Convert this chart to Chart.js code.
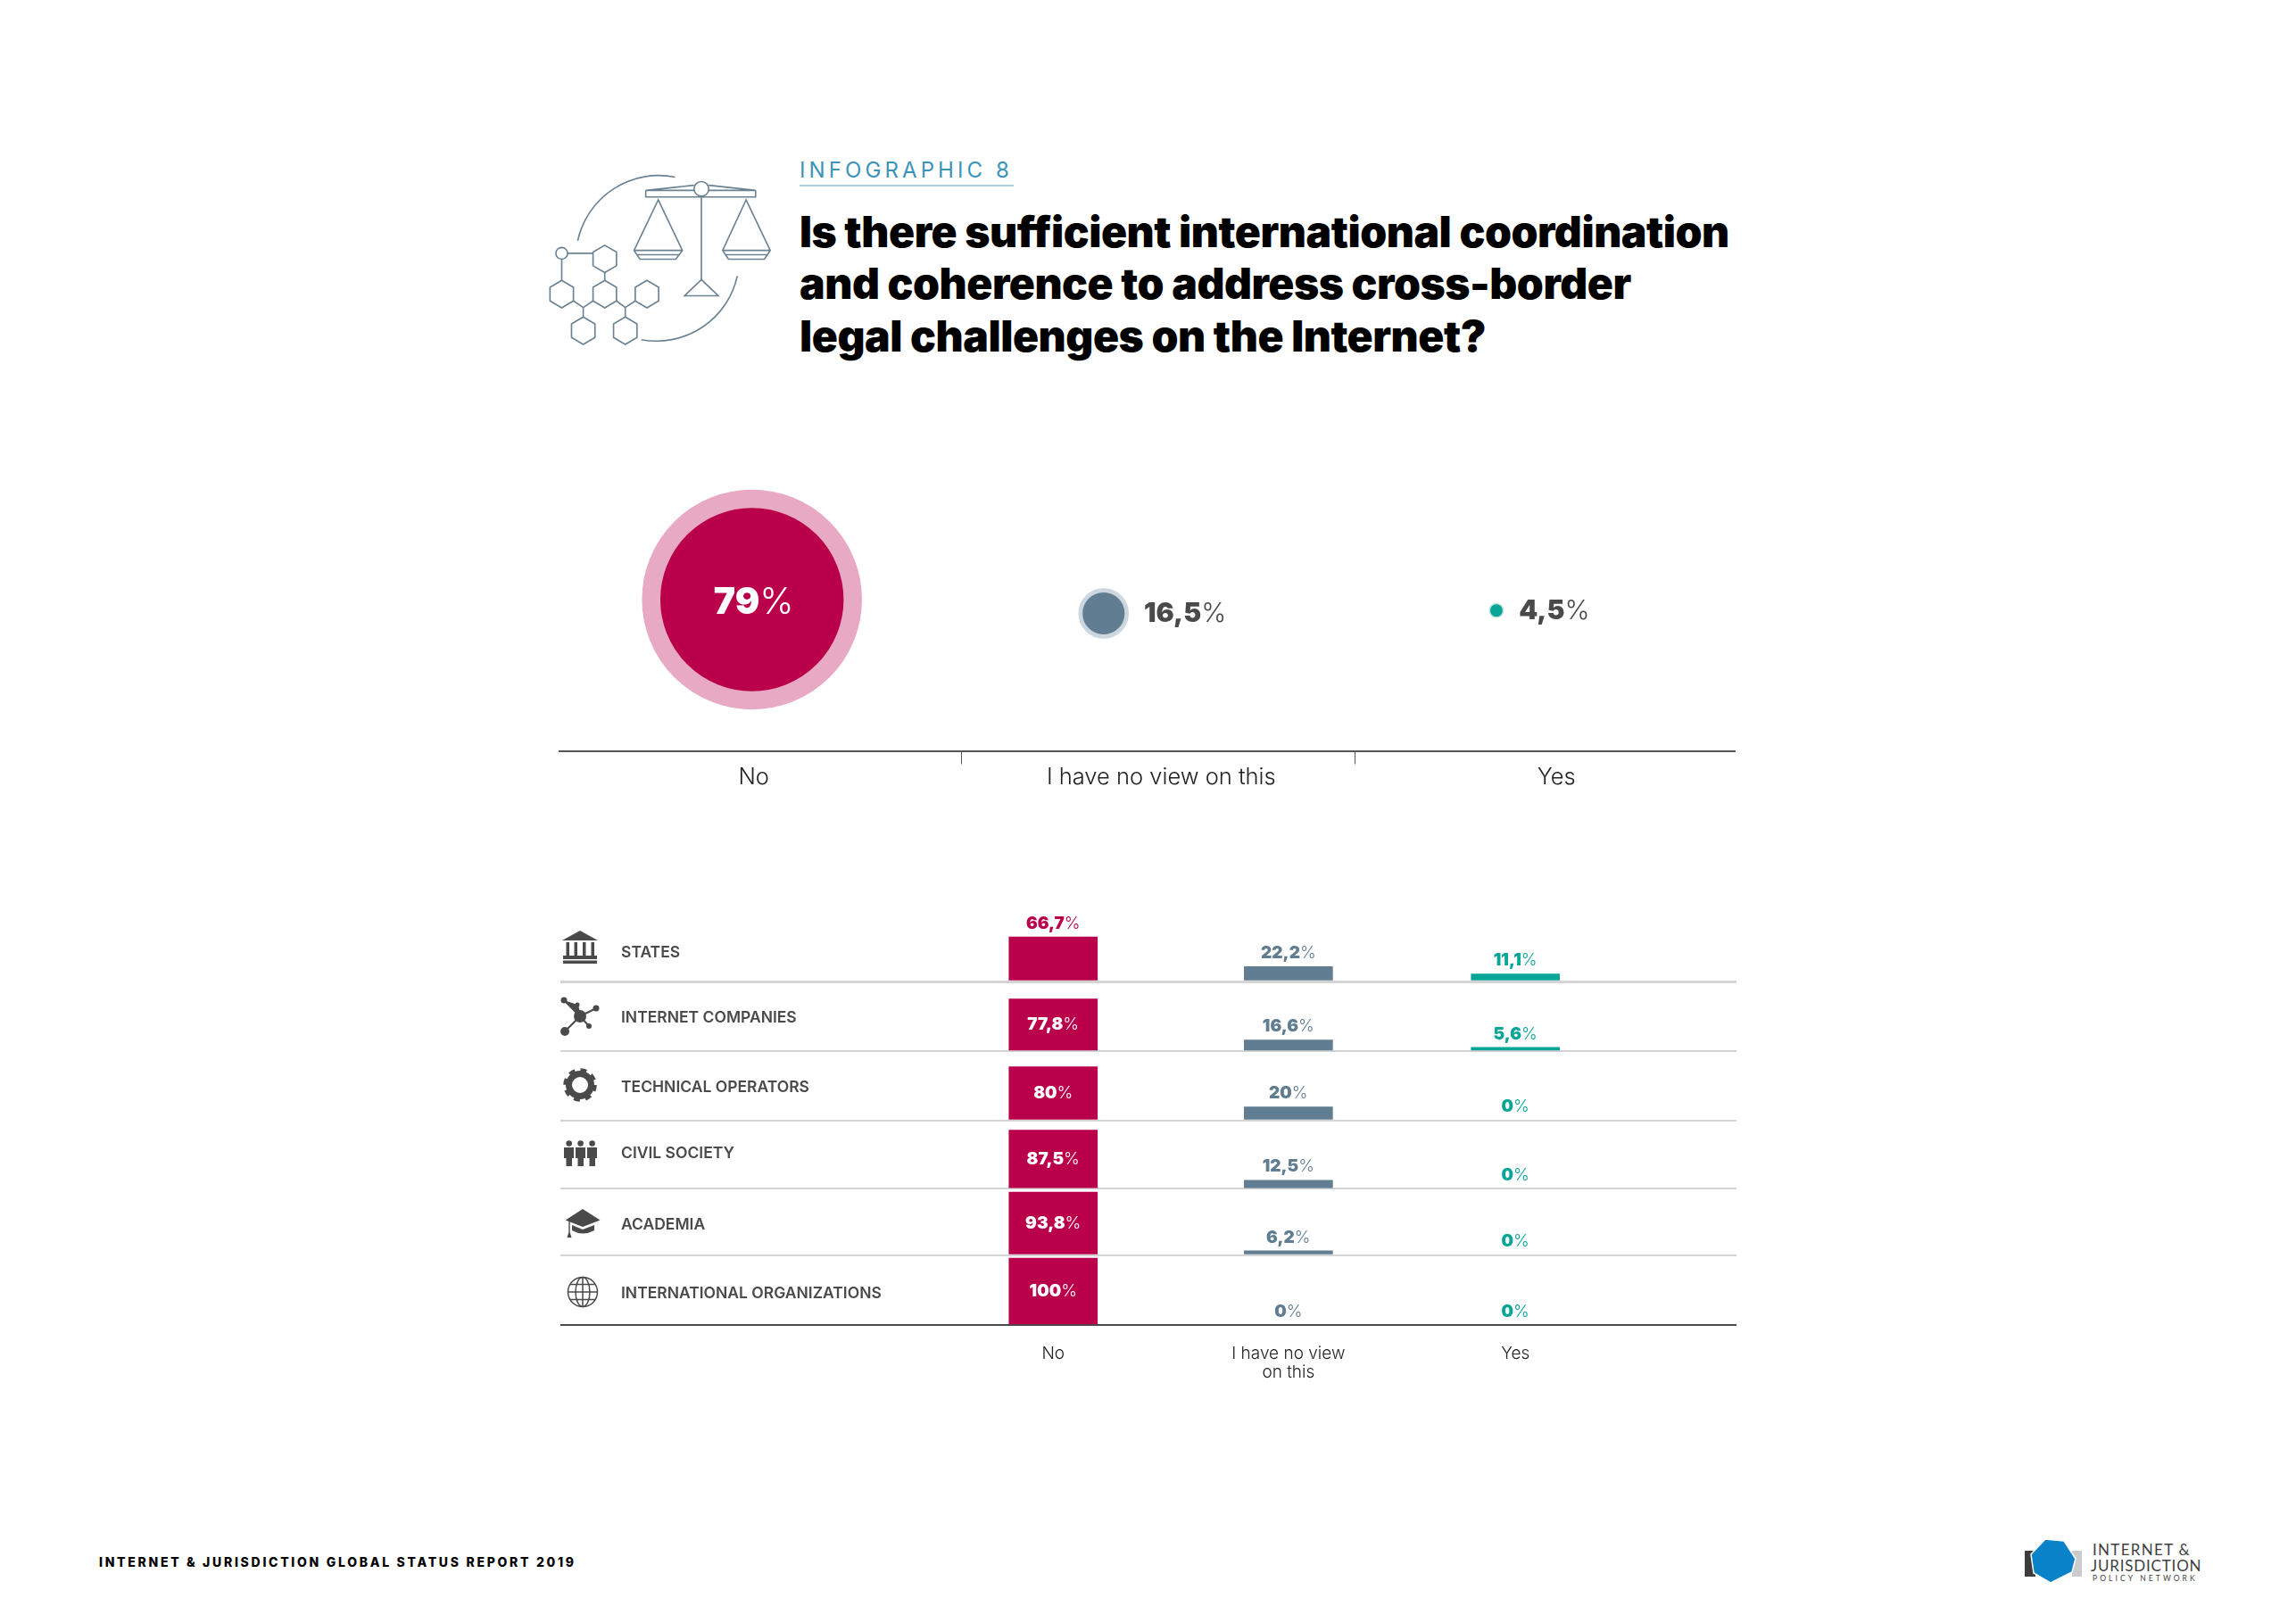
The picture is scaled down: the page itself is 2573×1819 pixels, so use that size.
<!DOCTYPE html>
<html>
<head>
<meta charset="utf-8">
<title>Infographic 8</title>
<script src="https://cdn.jsdelivr.net/npm/chart.js@4/dist/chart.umd.min.js"></script>
<style>
  html, body { margin: 0; background: #fff; }
  #page { position: relative; width: 2573px; height: 1819px; overflow: hidden; font-family: Inter, sans-serif; }
  #page canvas, #page svg, .txt { position: absolute; }
  .txt { white-space: nowrap; line-height: 1; }
  .kicker { left: 896px; top: 179px; font-size: 24px; font-weight: 400; letter-spacing: 4.1px; color: #3a94b8; }
  .kicker-line { left: 896px; top: 207px; width: 240px; height: 2px; background: #a9cfdf; }
  .title { left: 896px; font-size: 48px; font-weight: 900; color: #000; letter-spacing: -0.46px; }
  .foot { left: 111px; top: 1744px; font-size: 14px; font-weight: 800; letter-spacing: 2.7px; color: #000; }
  .logo1 { font-family: Lato, sans-serif; color: #3f3f3f; font-weight: 400; }
</style>
</head>
<body>
<div id="page">
  <div class="txt kicker">INFOGRAPHIC 8</div>
  <div class="kicker-line txt"></div>
  <div class="txt title" style="top:236px">Is there sufficient international coordination</div>
  <div class="txt title" style="top:294px">and coherence to address cross-border</div>
  <div class="txt title" style="top:353px">legal challenges on the Internet?</div>

  <svg width="2573" height="1819" viewBox="0 0 2573 1819" fill="none">
    <!-- scales + hexagons illustration, drawn in 1568 wide units -->
    <g transform="scale(1.641)" stroke="#6b8292" stroke-width="1">
      <path d="M461 121 A56.5 56.5 0 0 0 394.5 164.5"/>
      <path d="M438 232 A56.5 56.5 0 0 0 503.5 188.5"/>
      <path d="M479 134V191M441 130L474 126.500M484 126.500L516 130M441 130V134.500H516V130M441 130H516"/>
      <circle cx="479" cy="129" r="5" fill="#fff"/>
      <path d="M449.500 136.500L433 171L437 177H461.500L466 171ZM433 171H466M435 174H464"/>
      <path d="M509.500 136.500L493.500 171L497.500 177H522L526 171ZM493.500 171H526M495.500 174H524"/>
      <path d="M479 191L467.500 202H490.500Z"/>
      <circle cx="383.600" cy="173" r="4"/>
      <path d="M387.600 173H405M383.600 177V192M413 186V192"/>
      <path id="hx" d="M413 167.500L421 172.200V181.500L413 186.200L405 181.500V172.200Z"/>
      <path d="M383.600 191.500L391.600 196.200V205.500L383.600 210.200L375.600 205.500V196.200Z"/>
      <path d="M413 191.500L421 196.200V205.500L413 210.200L405 205.500V196.200Z"/>
      <path d="M441.800 191.500L449.800 196.200V205.500L441.800 210.200L433.800 205.500V196.200Z"/>
      <path d="M398.300 216.500L406.300 221.200V230.500L398.300 235.200L390.300 230.500V221.200Z"/>
      <path d="M427 216.500L435 221.200V230.500L427 235.200L419 230.500V221.200Z"/>
      <path d="M391.600 205.500L398.300 210V216.500M405 205.500L398.300 210M421 205.500L427 210V216.500M433.800 205.500L427 210"/>
    </g>

    <!-- row icons -->
    <g fill="#4a4a4a">
      <path d="M650 1043L670 1054H630Z"/>
      <rect x="634.500" y="1056" width="3.500" height="15"/><rect x="643.500" y="1056" width="3.500" height="15"/>
      <rect x="653" y="1056" width="3.500" height="15"/><rect x="662.500" y="1056" width="3.500" height="15"/>
      <rect x="631" y="1071" width="38" height="4"/><rect x="631" y="1076.500" width="38" height="3.500"/>

      <g stroke="#4a4a4a" stroke-width="2">
        <path d="M632 1121L650 1139L647 1126M650 1139L668 1130M650 1139L660 1150M650 1139L633 1156"/>
      </g>
      <circle cx="650" cy="1139" r="7"/><circle cx="632" cy="1121" r="3.500"/><circle cx="647" cy="1126" r="2.500"/>
      <circle cx="668" cy="1130" r="3.500"/><circle cx="660" cy="1150" r="3"/><circle cx="633" cy="1156" r="5"/>

      <circle cx="650" cy="1216" r="12.500" fill="none" stroke="#4a4a4a" stroke-width="7"/>
      <circle cx="650" cy="1216" r="17" fill="none" stroke="#4a4a4a" stroke-width="3.500" stroke-dasharray="7 6.350"/>

      <circle cx="637.700" cy="1281.500" r="3.300"/><circle cx="650.600" cy="1281.500" r="3.300"/><circle cx="663.600" cy="1281.500" r="3.300"/>
      <rect x="632" y="1286" width="11" height="12"/><rect x="645" y="1286" width="11" height="12"/><rect x="658" y="1286" width="11" height="12"/>
      <rect x="634.500" y="1297" width="6.500" height="10"/><rect x="647.500" y="1297" width="6.500" height="10"/><rect x="660.500" y="1297" width="6.500" height="10"/>

      <path d="M653 1355L672.500 1367.500L653 1375L633.700 1367.500Z"/>
      <path d="M641 1373L653 1378L666 1373V1379Q653 1386 641 1379Z"/>
      <path d="M637.300 1368H638.700V1381L640.500 1387H635.500L637.300 1381Z"/>
    </g>
    <g fill="none" stroke="#4a4a4a" stroke-width="1.500">
      <circle cx="653" cy="1448" r="16.500"/>
      <ellipse cx="653" cy="1448" rx="8" ry="16.500"/>
      <path d="M653 1431.500V1464.500M636.500 1448H669.500M639 1439.500H667M639 1456.500H667"/>
    </g>

    <!-- network logo -->
    <rect x="2269" y="1738" width="12" height="29" fill="#3c3c3c"/>
    <rect x="2322" y="1738" width="11" height="29" fill="#c9cbcc"/>
    <path d="M2292 1725L2313 1727L2326 1747L2322 1762L2298 1774L2279 1763L2276 1742Z" fill="#0a82c8" stroke="#fff" stroke-width="1.500"/>
  </svg>

  <div class="txt logo1" style="left:2345px;top:1728px;font-size:17px;letter-spacing:1.3px">INTERNET &amp;</div>
  <div class="txt logo1" style="left:2343px;top:1746px;font-size:17px;letter-spacing:.8px">JURISDICTION</div>
  <div class="txt logo1" style="left:2345px;top:1765px;font-size:8.500px;letter-spacing:3.100px">POLICY NETWORK</div>

  <!-- bubble charts keep a margin of max radius + border around the plot, so this canvas is 134px larger on each side -->
  <canvas id="overallChart" width="1585" height="590" style="left:493px;top:386px"></canvas>
  <canvas id="rowsChart" width="1318" height="565" style="left:628px;top:1010px"></canvas>

  <div class="txt foot">INTERNET &amp; JURISDICTION GLOBAL STATUS REPORT 2019</div>
</div>

<script>
// ---- data ----
const answers = ['No', 'I have no view on this', 'Yes'];
const overall = [79, 16.5, 4.5];

const rowNames = ['STATES', 'INTERNET COMPANIES', 'TECHNICAL OPERATORS', 'CIVIL SOCIETY', 'ACADEMIA', 'INTERNATIONAL ORGANIZATIONS'];
const noShare = [66.7, 77.8, 80, 87.5, 93.8, 100];
const noViewShare = [22.2, 16.6, 20, 12.5, 6.2, 0];
const yesShare = [11.1, 5.6, 0, 0, 0, 0];

// ---- layout and styling ----
const FONT = 'Inter, sans-serif';
const TEXT = '#4a4a4a';
const answerColors = ['#ba004b', '#607d91', '#09a596'];
const haloColors = ['#e8a9c4', '#ccd6de', '#b5e4df'];

// top panel, x axis runs 0-100 along the rule
const bubbleAt = [16.4, 46.3, 79.7];
const bubbleLevel = [52.8, 48, 49];
const answerLabelAt = [16.55, 51.2, 84.8];
const dividerAt = [34.2, 67.7];

// lower panel
const columnAt = [41.9, 61.9, 81.2];
const columnLabels = ['No', ['I have no view', 'on this'], 'Yes'];
const rowHeights = [90, 78, 77.5, 76.6, 74.4, 78.5];
const rowLabelLift = [32, 37, 37, 39, 34, 35];
const PX_PER_POINT = 0.75;

const formatValue = v => String(v).replace('.', ',');

// number in bold, % sign in light, like the report does
function drawValue(ctx, value, x, y, color, size, align) {
  const num = formatValue(value);
  ctx.save();
  ctx.fillStyle = color;
  ctx.textBaseline = 'middle';
  ctx.textAlign = 'left';
  ctx.font = `900 ${size}px ${FONT}`;
  const numW = ctx.measureText(num).width;
  ctx.font = `300 ${size}px ${FONT}`;
  const pctW = ctx.measureText('%').width;
  const left = align === 'center' ? x - (numW + pctW) / 2 : x;
  ctx.font = `900 ${size}px ${FONT}`;
  ctx.fillText(num, left, y);
  ctx.font = `300 ${size}px ${FONT}`;
  ctx.fillText('%', left + numW, y);
  ctx.restore();
}

// radius read from the three circles
function bubbleRadius(v) { return 1.69 * Math.pow(v, 0.94); }

const bubbleLabels = {
  id: 'bubbleLabels',
  afterDatasetsDraw(chart) {
    chart.getDatasetMeta(0).data.forEach((el, i) => {
      const v = overall[i];
      const outer = bubbleRadius(v) * 1.2;
      if (v > 50) drawValue(chart.ctx, v, el.x + 2, el.y + 4, '#fff', 41, 'center');
      else drawValue(chart.ctx, v, el.x + outer + 17, el.y + 0.5, TEXT, 30, 'left');
    });
  }
};

const barLabels = {
  id: 'barLabels',
  afterDatasetsDraw(chart) {
    chart.data.datasets.forEach((ds, d) => {
      chart.getDatasetMeta(d).data.forEach((el, i) => {
        const v = ds.data[i].y;
        if (i === 0 && v > 70) drawValue(chart.ctx, v, el.x, (el.y + el.base) / 2, '#fff', 19, 'center');
        else drawValue(chart.ctx, v, el.x, el.y - 15, answerColors[i], 19, 'center');
      });
    });
  }
};

new Chart(document.getElementById('overallChart'), {
  type: 'bubble',
  data: {
    datasets: [{
      data: overall.map((v, i) => ({ x: bubbleAt[i], y: bubbleLevel[i], r: bubbleRadius(v) * 1.1 })),
      backgroundColor: answerColors,
      borderColor: haloColors,
      borderWidth: ctx => bubbleRadius(overall[ctx.dataIndex]) * 0.2
    }]
  },
  options: {
    responsive: false,
    animation: false,
    events: [],
    layout: { padding: 0 },
    plugins: { legend: { display: false }, tooltip: { enabled: false } },
    scales: {
      y: { display: false, min: 0, max: 100 },
      x: {
        type: 'linear',
        min: 0,
        max: 100,
        afterBuildTicks: s => {
          s.ticks = [...answerLabelAt, ...dividerAt].sort((a, b) => a - b).map(value => ({ value }));
        },
        border: { display: true, color: '#555', width: 2 },
        grid: {
          drawOnChartArea: false,
          tickLength: 14,
          tickWidth: 1,
          tickColor: ctx => dividerAt.includes(ctx.tick.value) ? '#555' : 'transparent'
        },
        ticks: {
          autoSkip: false,
          maxRotation: 0,
          padding: 0,
          color: '#222',
          font: { family: FONT, size: 25.5, weight: 300 },
          callback: v => { const i = answerLabelAt.indexOf(v); return i < 0 ? '' : answers[i]; }
        }
      }
    }
  },
  plugins: [bubbleLabels]
});

// one stacked y axis per row, all sharing the x axis
const rowScales = {};
rowNames.forEach((name, i) => {
  rowScales['row' + i] = {
    position: 'left',
    stack: 'rows',
    stackWeight: rowHeights[i],
    weight: rowNames.length - i,
    min: 0,
    max: rowHeights[i] / PX_PER_POINT,
    afterBuildTicks: s => { s.ticks = [{ value: 0 }, { value: rowLabelLift[i] / PX_PER_POINT }]; },
    afterFit: s => { s.width = 0; s.paddingTop = 0; s.paddingBottom = 0; },
    border: { display: false },
    grid: {
      drawTicks: false,
      color: ctx => ctx.tick.value !== 0 ? 'transparent' : (i === rowNames.length - 1 ? '#4a4a4a' : '#d4d4d4'),
      lineWidth: ctx => ctx.tick.value !== 0 ? 0 : (i === 0 ? 3 : 2)
    },
    ticks: {
      mirror: true,
      padding: 68,
      autoSkip: false,
      color: TEXT,
      font: { family: FONT, size: 17.5, weight: 600 },
      callback: v => v === 0 ? '' : name
    }
  };
});

new Chart(document.getElementById('rowsChart'), {
  type: 'bar',
  data: {
    datasets: rowNames.map((name, i) => ({
      label: name,
      yAxisID: 'row' + i,
      data: [noShare[i], noViewShare[i], yesShare[i]].map((v, c) => ({ x: columnAt[c], y: v })),
      // a zero bar would still leave a hairline on the row rule
      backgroundColor: ctx => ctx.raw.y === 0 ? 'transparent' : answerColors[ctx.dataIndex],
      barThickness: 99,
      grouped: false
    }))
  },
  options: {
    responsive: false,
    animation: false,
    events: [],
    layout: { padding: 0 },
    plugins: { legend: { display: false }, tooltip: { enabled: false } },
    scales: {
      x: {
        type: 'linear',
        offset: false,
        min: 0,
        max: 100,
        afterBuildTicks: s => { s.ticks = columnAt.map(value => ({ value })); },
        afterFit: s => { s.height = 90; s.paddingLeft = 0; s.paddingRight = 0; },
        border: { display: false },
        grid: { display: false, offset: false },
        ticks: {
          autoSkip: false,
          maxRotation: 0,
          padding: 14,
          color: '#222',
          font: { family: FONT, size: 19, weight: 300, lineHeight: 1.1 },
          callback: v => columnLabels[columnAt.indexOf(v)]
        }
      },
      ...rowScales
    }
  },
  plugins: [barLabels]
});
</script>
</body>
</html>
